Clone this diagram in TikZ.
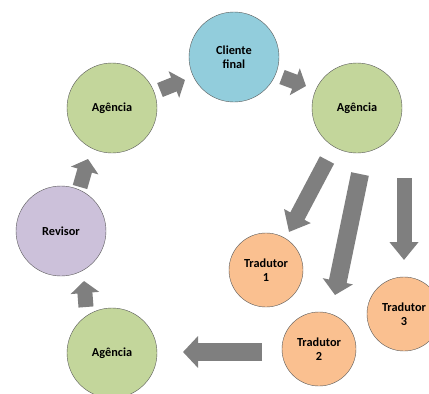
\documentclass[tikz,border=0pt]{standalone}
\usepackage{fontspec}
\setmainfont{Carlito}
\usetikzlibrary{arrows.meta}
\definecolor{cblue}{HTML}{92CDDC}
\definecolor{cgreen}{HTML}{C3D69B}
\definecolor{cpurple}{HTML}{CCC1DA}
\definecolor{corange}{HTML}{FAC090}
\definecolor{agray}{HTML}{7F7F7F}
\tikzset{
  bub/.style={circle, draw=black!65, line width=0.4pt, inner sep=0pt, align=center,
    font=\fontsize{12.3}{13.5}\selectfont\bfseries},
  big/.style={bub, minimum size=90pt},
  small/.style={bub, minimum size=74pt},
  blk/.style={draw=agray, line width=#1},
  blk/.default=15pt,
}
\begin{document}
\begin{tikzpicture}[x=1pt,y=-1pt]
\path[use as bounding box] (0,0) rectangle (429,394);
\node[big, fill=cblue]   (cl) at (234,57)  {Cliente\\final};
\node[big, fill=cgreen]  (a1) at (112,108) {Agência};
\node[big, fill=cgreen]  (a2) at (357,108) {Agência};
\node[big, fill=cpurple] (rv) at (61,231)  {Revisor};
\node[big, fill=cgreen]  (a3) at (112,353) {Agência};
\node[small, fill=corange] (t1) at (266,270) {Tradutor\\1};
\node[small, fill=corange] (t2) at (319,349) {Tradutor\\2};
\node[small, fill=corange] (t3) at (404,314) {Tradutor\\3};
% arrow end points
\coordinate (p1s) at (160,90);  \coordinate (p1e) at (185,80);
\coordinate (p2s) at (282,77);  \coordinate (p2e) at (306,86);
\coordinate (p3s) at (80,187);  \coordinate (p3e) at (88,159);
\coordinate (p4s) at (86,307);  \coordinate (p4e) at (84,281);
\coordinate (p5s) at (262,352); \coordinate (p5e) at (183,352);
\coordinate (p6s) at (327,160); \coordinate (p6e) at (289,232);
\coordinate (p7s) at (360,174); \coordinate (p7e) at (335,295);
\coordinate (p8s) at (404,178); \coordinate (p8e) at (404,260);
% small arrows
\foreach \s/\e in {p1s/p1e,p2s/p2e,p3s/p3e,p4s/p4e}
  \draw[blk=15pt, -{Triangle[width=28pt, length=12pt]}] (\s) -- (\e);
\draw[blk=18pt, -{Triangle[width=31pt, length=15pt]}] (p5s) -- (p5e);
\draw[blk=16pt, -{Triangle[width=29pt, length=18pt]}] (p6s) -- (p6e);
\draw[blk=18pt, -{Triangle[width=30pt, length=14pt]}] (p7s) -- (p7e);
\draw[blk=15pt, -{Triangle[width=28pt, length=18pt]}] (p8s) -- (p8e);
\end{tikzpicture}
\end{document}
